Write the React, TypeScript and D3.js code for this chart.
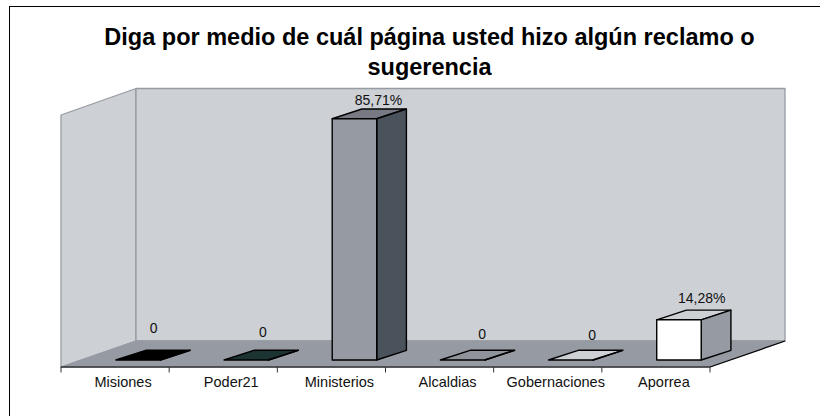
import { useEffect, useRef } from "react";
import * as d3 from "d3";

const categories = ["Misiones", "Poder21", "Ministerios", "Alcaldias", "Gobernaciones", "Aporrea"];
const values = [0, 0, 85.71, 0, 0, 14.28];
const valueLabels = ["0", "0", "85,71%", "0", "0", "14,28%"];
const titleLines = ["Diga por medio de cuál página usted hizo algún reclamo o", "sugerencia"];

// Excel-style shades: front, side, top of each box
const frontColors = ["#000000", "#1c3333", "#969aa3", "#969aa3", "#cdd0d5", "#ffffff"];
const sideColors = ["#000000", "#1c3333", "#4a525b", "#969aa3", "#cdd0d5", "#969aa3"];
const topColors = ["#000000", "#1c3333", "#777a83", "#8f939c", "#cdd0d5", "#cdd0d5"];
// hand-placed data labels in the original, so they sit unevenly around the box
const labelLift = [17, 13, 4, 11, 10, 7];
const labelShift = [15.4, 16.6, 24, 19.5, 21.3, 22.8];

function App() {
  const ref = useRef<SVGSVGElement>(null);

  const width = 820;
  const height = 416;
  const floor = { left: 61, right: 710, front: 367, back: 341, depth: 75 };
  const wallTop = 88.5;
  const wallFrontTop = 115;
  const barWidth = 44.5;
  const barDepth = { dx: 29.7, dy: 9.7 };
  const baseY = 360;

  useEffect(() => {
    const svg = d3.select(ref.current);
    svg.selectAll("*").remove();

    const x = d3.scaleBand().domain(categories).range([floor.left, floor.right]);
    const y = d3.scaleLinear().domain([0, 100]).range([baseY, baseY - 281.5]);
    const line = d3.line();

    // The border runs off the picture on the right and at the bottom
    svg.append("rect")
      .attr("x", 9.5).attr("y", 6.5).attr("width", 830).attr("height", 430)
      .attr("fill", "white").attr("stroke", "black");

    // Title
    svg.append("text")
      .attr("text-anchor", "middle")
      .attr("font-family", "Liberation Sans")
      .attr("font-size", 23.5)
      .attr("font-weight", "bold")
      .selectAll("tspan")
      .data(titleLines)
      .join("tspan")
      .attr("x", 429.5)
      .attr("y", (_, i) => 45 + i * 30)
      .text(d => d);

    // Walls and floor
    const walls = svg.append("g").attr("stroke", "#969aa3").attr("stroke-width", 1.3).attr("stroke-linejoin", "round");
    const backLeft = floor.left + floor.depth;
    const backRight = floor.right + floor.depth;
    walls.append("path")
      .attr("d", line([[floor.left, floor.front], [floor.left, wallFrontTop], [backLeft, wallTop], [backLeft, floor.back]]) + "Z")
      .attr("fill", "#cdd0d5");
    walls.append("rect")
      .attr("x", backLeft).attr("y", wallTop)
      .attr("width", backRight - backLeft).attr("height", floor.back - wallTop)
      .attr("fill", "#cdd0d5");
    walls.append("path")
      .attr("d", line([[floor.left, floor.front], [backLeft, floor.back], [backRight, floor.back], [floor.right, floor.front]]) + "Z")
      .attr("fill", "#969aa3");

    // Axis line, ticks on the band edges, and the dark right edge of the floor
    const axis = svg.append("g");
    axis.append("path")
      .attr("d", line([[floor.left, floor.front], [floor.right, floor.front], [backRight, floor.back]]))
      .attr("fill", "none")
      .attr("stroke", "black").attr("stroke-width", 1.2);
    axis.selectAll("line.tick")
      .data([...categories.map(c => x(c)!), floor.right])
      .join("line")
      .attr("class", "tick")
      .attr("x1", d => d).attr("x2", d => d)
      .attr("y1", floor.front).attr("y2", floor.front + 5.5)
      .attr("stroke", "#333");

    // Category labels
    const labels = svg.append("g")
      .attr("transform", `translate(8, ${floor.front})`)
      .call(d3.axisBottom(x).tickSize(0).tickPadding(10));
    labels.select(".domain").remove();
    labels.selectAll("text")
      .attr("font-family", "Liberation Sans")
      .attr("font-size", 14.5)
      .attr("fill", "#111");

    // Boxes
    const bars = svg.selectAll("g.bar")
      .data(categories)
      .join("g")
      .attr("class", "bar")
      .attr("stroke", "black")
      .attr("stroke-width", 1.4)
      .attr("stroke-linejoin", "round");

    const frontX = (c: string) => x(c)! + x.bandwidth() / 2 + 0.8;

    bars.append("path")
      .attr("fill", (_, i) => topColors[i])
      .attr("d", (c, i) => {
        const l = frontX(c), t = y(values[i]);
        return line([[l, t], [l + barDepth.dx, t - barDepth.dy], [l + barWidth + barDepth.dx, t - barDepth.dy], [l + barWidth, t]]) + "Z";
      });
    bars.append("path")
      .attr("fill", (_, i) => sideColors[i])
      .attr("d", (c, i) => {
        const r = frontX(c) + barWidth, t = y(values[i]);
        return line([[r, baseY], [r + barDepth.dx, baseY - barDepth.dy], [r + barDepth.dx, t - barDepth.dy], [r, t]]) + "Z";
      });
    bars.filter((_, i) => values[i] > 0).append("rect")
      .attr("fill", c => frontColors[categories.indexOf(c)])
      .attr("x", c => frontX(c))
      .attr("y", c => y(values[categories.indexOf(c)]))
      .attr("width", barWidth)
      .attr("height", c => baseY - y(values[categories.indexOf(c)]));

    // Value labels
    svg.selectAll("text.value")
      .data(categories)
      .join("text")
      .attr("class", "value")
      .attr("text-anchor", "middle")
      .attr("font-family", "Liberation Sans")
      .attr("font-size", 14)
      .attr("fill", "#111")
      .attr("x", (c, i) => frontX(c) + barWidth / 2 + labelShift[i])
      .attr("y", (_, i) => y(values[i]) - barDepth.dy - labelLift[i])
      .text((_, i) => valueLabels[i]);
  }, []);

  return <svg ref={ref} width={width} height={height} style={{ position: "absolute", left: 0, top: 0 }} />;
}

export default App;
